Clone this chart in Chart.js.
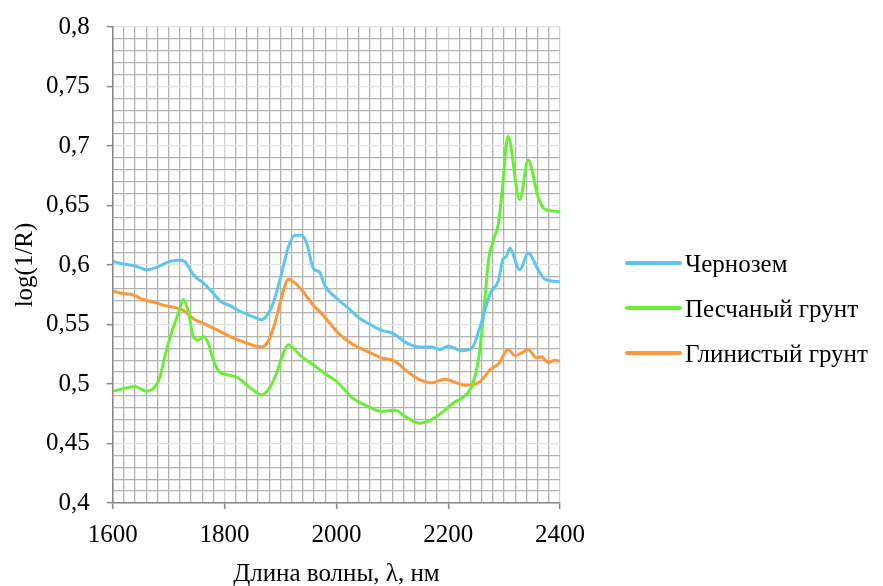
<!DOCTYPE html>
<html lang="en">
<head>
    <meta charset="UTF-8">
    <title>log(1/R)</title>
    <script src="https://cdn.jsdelivr.net/npm/chart.js"></script>
    <style>
        html, body { margin: 0; padding: 0; background: #fff; font-family: "Liberation Serif", serif; }
        #wrap { width: 883px; height: 586px; }
    </style>
</head>
<body>
    <div id="wrap">
        <canvas id="myChart" width="883" height="586"></canvas>
    </div>
    <script>
        // Чернозем
        const wlChernozem = [1600, 1618, 1642, 1660, 1678, 1702, 1720, 1729, 1741, 1750, 1762, 1780, 1794, 1809, 1824, 1848, 1866, 1875, 1887, 1902, 1914, 1926, 1938, 1947, 1959, 1970, 1979, 2003, 2021, 2042, 2057, 2081, 2099, 2128, 2152, 2170, 2185, 2200, 2224, 2242, 2257, 2275, 2290, 2298, 2304, 2310, 2328, 2343, 2362, 2373, 2400];
        const valChernozem = [0.603, 0.601, 0.599, 0.596, 0.598, 0.603, 0.604, 0.603, 0.594, 0.589, 0.585, 0.576, 0.569, 0.566, 0.562, 0.557, 0.554, 0.557, 0.568, 0.593, 0.615, 0.625, 0.625, 0.618, 0.597, 0.594, 0.583, 0.571, 0.564, 0.555, 0.551, 0.545, 0.543, 0.534, 0.531, 0.531, 0.529, 0.532, 0.528, 0.530, 0.548, 0.576, 0.587, 0.605, 0.607, 0.614, 0.596, 0.610, 0.595, 0.588, 0.586];

        // Песчаный грунт
        const wlSand = [1600, 1618, 1639, 1660, 1672, 1684, 1693, 1705, 1717, 1726, 1735, 1744, 1753, 1762, 1771, 1780, 1791, 1803, 1824, 1848, 1866, 1878, 1893, 1905, 1914, 1923, 1938, 1959, 1979, 2003, 2027, 2057, 2081, 2105, 2122, 2149, 2170, 2194, 2209, 2227, 2242, 2254, 2263, 2272, 2281, 2290, 2296, 2307, 2328, 2343, 2361, 2373, 2400];
        const valSand = [0.494, 0.496, 0.498, 0.494, 0.496, 0.505, 0.523, 0.543, 0.559, 0.571, 0.561, 0.540, 0.537, 0.540, 0.534, 0.520, 0.510, 0.508, 0.505, 0.496, 0.491, 0.495, 0.509, 0.526, 0.533, 0.530, 0.523, 0.516, 0.509, 0.501, 0.489, 0.481, 0.477, 0.478, 0.473, 0.467, 0.470, 0.478, 0.484, 0.489, 0.498, 0.520, 0.557, 0.604, 0.621, 0.635, 0.660, 0.708, 0.655, 0.688, 0.657, 0.647, 0.645];

        // Глинистый грунт
        const wlClay = [1600, 1618, 1636, 1654, 1672, 1693, 1714, 1726, 1747, 1762, 1780, 1797, 1809, 1824, 1848, 1866, 1878, 1890, 1902, 1914, 1926, 1938, 1959, 1976, 2003, 2027, 2057, 2081, 2105, 2128, 2152, 2170, 2194, 2209, 2230, 2257, 2275, 2290, 2307, 2319, 2331, 2343, 2358, 2367, 2379, 2391, 2400];
        const valClay = [0.578, 0.576, 0.575, 0.571, 0.569, 0.566, 0.564, 0.562, 0.554, 0.551, 0.547, 0.543, 0.540, 0.537, 0.533, 0.531, 0.536, 0.551, 0.573, 0.588, 0.585, 0.579, 0.566, 0.558, 0.543, 0.534, 0.527, 0.522, 0.519, 0.510, 0.503, 0.501, 0.504, 0.502, 0.499, 0.502, 0.512, 0.517, 0.529, 0.524, 0.526, 0.529, 0.522, 0.523, 0.518, 0.520, 0.519];

        const seriesNames = ['Чернозем', 'Песчаный грунт', 'Глинистый грунт'];
        const seriesColors = ['#5cc6f2', '#66ef33', '#ff9637'];

        const xMin = 1600, xMax = 2400, xStep = 20, xLabelStep = 200;
        const yMin = 0.4, yMax = 0.8, yStep = 0.01, yLabelStep = 0.05;

        const FAMILY = 'Liberation Serif';
        Chart.defaults.font.family = FAMILY;
        Chart.defaults.font.size = 25;
        Chart.defaults.color = '#000';

        const toPoints = (xs, ys) => xs.map((x, i) => ({ x: x, y: ys[i] }));

        const isMajorY = v => Math.round(v * 100) % Math.round(yLabelStep * 100) === 0;
        const isMajorX = v => Math.round(v) % xLabelStep === 0;

        // legend drawn beside the plot (built-in one cannot sit this far out)
        const sideLegend = {
            id: 'sideLegend',
            afterDraw(chart) {
                const { ctx, chartArea } = chart;
                const x0 = chartArea.right + 67;
                const lineLen = 53;
                let y = chartArea.top + 236;
                ctx.save();
                ctx.font = '25px "' + FAMILY + '"';
                ctx.textBaseline = 'middle';
                ctx.textAlign = 'left';
                chart.data.datasets.forEach(ds => {
                    ctx.strokeStyle = ds.borderColor;
                    ctx.lineWidth = 4;
                    ctx.lineCap = 'round';
                    ctx.beginPath();
                    ctx.moveTo(x0, y);
                    ctx.lineTo(x0 + lineLen, y);
                    ctx.stroke();
                    ctx.fillStyle = '#000';
                    ctx.fillText(ds.label, x0 + lineLen + 5, y + 2);
                    y += 45;
                });
                ctx.restore();
            }
        };

        const data = {
            datasets: [
                { label: seriesNames[0], data: toPoints(wlChernozem, valChernozem), borderColor: seriesColors[0], backgroundColor: seriesColors[0] },
                { label: seriesNames[1], data: toPoints(wlSand, valSand), borderColor: seriesColors[1], backgroundColor: seriesColors[1] },
                { label: seriesNames[2], data: toPoints(wlClay, valClay), borderColor: seriesColors[2], backgroundColor: seriesColors[2] }
            ]
        };

        const config = {
            type: 'line',
            data: data,
            options: {
                responsive: false,
                animation: false,
                layout: {
                    padding: { top: 20, right: 323, bottom: 0, left: 0 }
                },
                elements: {
                    point: { radius: 0 },
                    line: { borderWidth: 3, cubicInterpolationMode: 'monotone' }
                },
                plugins: {
                    legend: { display: false },
                    tooltip: { enabled: false }
                },
                scales: {
                    x: {
                        type: 'linear',
                        min: xMin,
                        max: xMax,
                        grid: {
                            color: c => isMajorX(c.tick.value) ? '#d2d2d2' : '#b2b2b2',
                            lineWidth: 1.3,
                            tickColor: c => isMajorX(c.tick.value) ? '#868686' : 'rgba(0,0,0,0)',
                            tickLength: 6,
                            tickWidth: 1.5
                        },
                        border: { display: true, color: '#868686', width: 1.5 },
                        ticks: {
                            stepSize: xStep,
                            autoSkip: false,
                            maxRotation: 0,
                            padding: 11,
                            font: { family: FAMILY, size: 25 },
                            callback: v => isMajorX(v) ? String(v) : ''
                        },
                        title: {
                            display: true,
                            text: 'Длина волны, λ, нм',
                            font: { family: FAMILY, size: 25 },
                            padding: { top: -2, bottom: -3 }
                        }
                    },
                    y: {
                        min: yMin,
                        max: yMax,
                        grid: {
                            color: c => isMajorY(c.tick.value) ? '#e2e2e2' : '#b2b2b2',
                            lineWidth: 1.3,
                            tickColor: c => isMajorY(c.tick.value) ? '#868686' : 'rgba(0,0,0,0)',
                            tickLength: 6,
                            tickWidth: 1.5
                        },
                        border: { display: true, color: '#868686', width: 1.5 },
                        ticks: {
                            stepSize: yStep,
                            autoSkip: false,
                            padding: 17,
                            font: { family: FAMILY, size: 25, lineHeight: 0.8 },
                            callback: v => isMajorY(v) ? String(Number(v.toFixed(2))).replace('.', ',') : ''
                        },
                        title: {
                            display: true,
                            text: 'log(1/R)',
                            font: { family: FAMILY, size: 25 },
                            padding: { top: 10, bottom: -11 }
                        }
                    }
                }
            },
            plugins: [sideLegend]
        };

        const myChart = new Chart(document.getElementById('myChart'), config);
        if (document.fonts && document.fonts.load) {
            document.fonts.load('25px "' + FAMILY + '"', 'Чернозем 0,75').then(() => myChart.update());
        }
    </script>
</body>
</html>
